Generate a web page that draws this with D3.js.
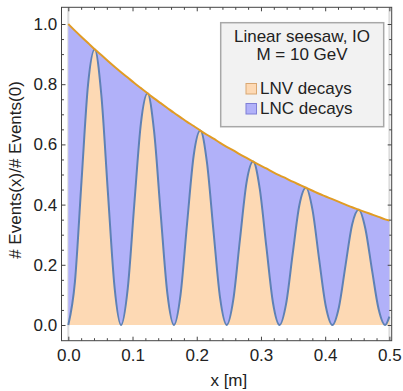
<!DOCTYPE html>
<html>
<head>
<meta charset="utf-8">
<script src="https://cdn.jsdelivr.net/npm/d3@7"></script>
<style>
  body { margin: 0; background: #fff; }
  svg text { font-family: "Liberation Sans", Arial, sans-serif; fill: #222; }
</style>
</head>
<body>
<div id="chart"></div>
<script>
const w = 403;
const h = 391;

// distance x [m], sampled along the curves
const xs = [0, 0.0103, 0.0206, 0.0308, 0.0411, 0.0514, 0.0617, 0.0720, 0.0822, 0.0925,
  0.1028, 0.1131, 0.1234, 0.1336, 0.1439, 0.1542, 0.1645, 0.1748, 0.1850, 0.1953,
  0.2056, 0.2159, 0.2262, 0.2364, 0.2467, 0.2570, 0.2673, 0.2776, 0.2878, 0.2981,
  0.3084, 0.3187, 0.3290, 0.3392, 0.3495, 0.3598, 0.3701, 0.3804, 0.3906, 0.4009,
  0.4112, 0.4215, 0.4318, 0.4420, 0.4523, 0.4626, 0.4729, 0.4832, 0.4934, 0.5000];

// total events (upper envelope)
const total = [1.000, 0.978, 0.957, 0.937, 0.916, 0.897, 0.877, 0.858, 0.840, 0.822,
  0.804, 0.787, 0.770, 0.753, 0.737, 0.721, 0.705, 0.690, 0.675, 0.661,
  0.646, 0.632, 0.619, 0.605, 0.592, 0.580, 0.567, 0.555, 0.543, 0.531,
  0.520, 0.508, 0.497, 0.487, 0.476, 0.466, 0.456, 0.446, 0.436, 0.427,
  0.418, 0.409, 0.400, 0.391, 0.383, 0.375, 0.367, 0.359, 0.351, 0.347];

// LNV part (oscillating)
const lnv = [0, 0.143, 0.479, 0.800, 0.916, 0.765, 0.439, 0.126, 0, 0.120,
  0.402, 0.671, 0.770, 0.643, 0.368, 0.106, 0, 0.101, 0.338, 0.564,
  0.646, 0.540, 0.309, 0.089, 0, 0.085, 0.284, 0.474, 0.543, 0.453,
  0.260, 0.074, 0, 0.071, 0.238, 0.398, 0.456, 0.381, 0.218, 0.063,
  0, 0.060, 0.200, 0.334, 0.383, 0.320, 0.183, 0.053, 0, 0.028];

const xTicks = [0, 0.1, 0.2, 0.3, 0.4, 0.5];
const yTicks = [0, 0.2, 0.4, 0.6, 0.8, 1.0];
const legendTitle = ["Linear seesaw, IO", "M = 10 GeV"];
const legendItems = [
  {label: "LNV decays", fill: "#fdd9b4", stroke: "#d9a772"},
  {label: "LNC decays", fill: "#b1b1f9", stroke: "#7f7fd6"}
];

const frame = {l: 61.5, r: 391.7, t: 7.3, b: 340.7};
const fs = 17;

const x = d3.scaleLinear().domain([-0.0106, 0.5036]).range([frame.l, frame.r]);
const y = d3.scaleLinear().domain([-0.0522, 1.0555]).range([frame.b, frame.t]);

const pts = xs.map((d, i) => ({x: d, total: total[i], lnv: lnv[i]}));

const svg = d3.select("#chart").append("svg")
  .attr("width", w).attr("height", h);

// light vertical lines at the ends of the range
svg.selectAll(".edge")
  .data([0, 0.5])
  .enter().append("line")
  .attr("x1", d => x(d)).attr("x2", d => x(d))
  .attr("y1", frame.t).attr("y2", frame.b)
  .attr("stroke", "#dcdcdc").attr("stroke-width", 2);

const curve = d3.curveMonotoneX;

// LNC fill: between LNV and total
svg.append("path")
  .datum(pts)
  .attr("d", d3.area().curve(curve).x(d => x(d.x)).y0(d => y(d.lnv)).y1(d => y(d.total)))
  .attr("fill", "#b1b1f9");

// LNV fill: between 0 and LNV
svg.append("path")
  .datum(pts)
  .attr("d", d3.area().curve(curve).x(d => x(d.x)).y0(y(0)).y1(d => y(d.lnv)))
  .attr("fill", "#fdd9b4");

svg.append("path")
  .datum(pts)
  .attr("d", d3.line().curve(curve).x(d => x(d.x)).y(d => y(d.lnv)))
  .attr("fill", "none").attr("stroke", "#5e81b5").attr("stroke-width", 2);

svg.append("path")
  .datum(pts)
  .attr("d", d3.line().curve(curve).x(d => x(d.x)).y(d => y(d.total)))
  .attr("fill", "none").attr("stroke", "#e19c24").attr("stroke-width", 2);

// frame
svg.append("rect")
  .attr("x", frame.l).attr("y", frame.t)
  .attr("width", frame.r - frame.l).attr("height", frame.b - frame.t)
  .attr("fill", "none").attr("stroke", "#444").attr("stroke-width", 1);

const xMinor = d3.range(0, 0.5001, 0.02).filter(v => Math.abs(v * 10 - Math.round(v * 10)) > 1e-6);
const yMinor = d3.range(0, 1.0001, 0.05).filter(v => Math.abs(v * 5 - Math.round(v * 5)) > 1e-6);

function styleAxis(g) {
  g.select(".domain").remove();
  g.selectAll("line").attr("stroke", "#444");
  g.selectAll("text").attr("font-size", fs).attr("fill", "#222")
    .attr("font-family", "Liberation Sans, Arial, sans-serif");
}

// bottom
svg.append("g").attr("transform", `translate(0,${frame.b})`)
  .call(d3.axisBottom(x).tickValues(xTicks).tickSize(-4).tickPadding(8.2).tickFormat(d3.format(".1f")))
  .call(styleAxis);
svg.append("g").attr("transform", `translate(0,${frame.b})`)
  .call(d3.axisBottom(x).tickValues(xMinor).tickSize(-2.5).tickFormat(""))
  .call(styleAxis);
// top
svg.append("g").attr("transform", `translate(0,${frame.t})`)
  .call(d3.axisTop(x).tickValues(xTicks).tickSize(-4).tickFormat(""))
  .call(styleAxis);
svg.append("g").attr("transform", `translate(0,${frame.t})`)
  .call(d3.axisTop(x).tickValues(xMinor).tickSize(-2.5).tickFormat(""))
  .call(styleAxis);
// left
svg.append("g").attr("transform", `translate(${frame.l},0)`)
  .call(d3.axisLeft(y).tickValues(yTicks).tickSize(-4).tickPadding(4.3).tickFormat(d3.format(".1f")))
  .call(styleAxis);
svg.append("g").attr("transform", `translate(${frame.l},0)`)
  .call(d3.axisLeft(y).tickValues(yMinor).tickSize(-2.5).tickFormat(""))
  .call(styleAxis);
// right
svg.append("g").attr("transform", `translate(${frame.r},0)`)
  .call(d3.axisRight(y).tickValues(yTicks).tickSize(-4).tickFormat(""))
  .call(styleAxis);
svg.append("g").attr("transform", `translate(${frame.r},0)`)
  .call(d3.axisRight(y).tickValues(yMinor).tickSize(-2.5).tickFormat(""))
  .call(styleAxis);

// axis labels
svg.append("text")
  .attr("x", (x(0) + x(0.5)) / 2).attr("y", 386)
  .attr("text-anchor", "middle").attr("font-size", fs)
  .text("x [m]");

svg.append("text")
  .attr("transform", "translate(20.5,170) rotate(-90)")
  .attr("text-anchor", "middle").attr("font-size", fs)
  .text("# Events(x)/# Events(0)");

// legend
const legend = svg.append("g");
legend.append("rect")
  .attr("x", 220.7).attr("y", 22.7).attr("width", 163).attr("height", 104)
  .attr("fill", "#f2f2f2").attr("stroke", "#a8a8a8").attr("stroke-width", 1.5);

legend.selectAll(".ltitle")
  .data(legendTitle)
  .enter().append("text")
  .attr("x", 302).attr("y", (d, i) => 42 + i * 17.5)
  .attr("text-anchor", "middle").attr("font-size", fs)
  .text(d => d);

const items = legend.selectAll(".litem")
  .data(legendItems)
  .enter().append("g")
  .attr("transform", (d, i) => `translate(0,${94 + i * 20})`);

items.append("rect")
  .attr("x", 246).attr("y", -10.5).attr("width", 10.5).attr("height", 10.5)
  .attr("fill", d => d.fill).attr("stroke", d => d.stroke).attr("stroke-width", 1);

items.append("text")
  .attr("x", 260).attr("y", 0).attr("font-size", fs)
  .text(d => d.label);
</script>
</body>
</html>
